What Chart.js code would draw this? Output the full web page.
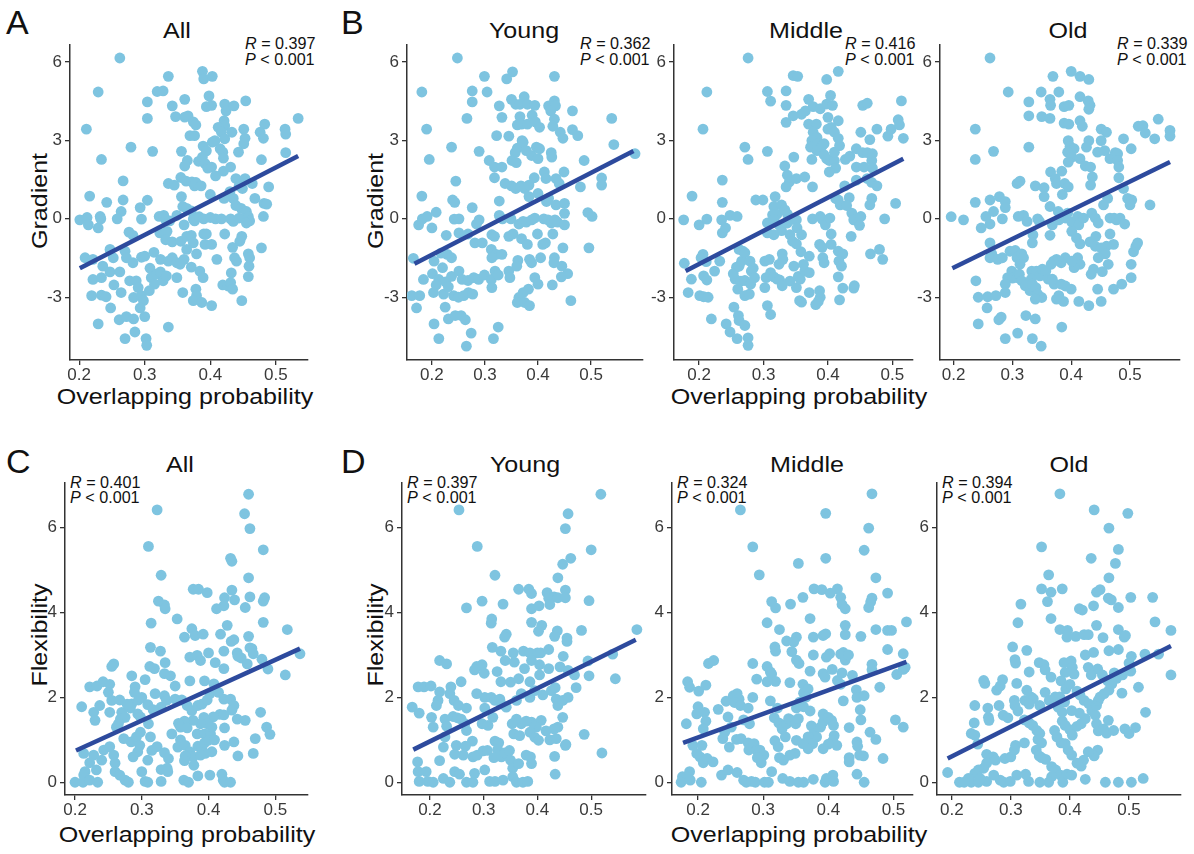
<!DOCTYPE html>
<html>
<head>
<meta charset="utf-8">
<script src="https://cdn.jsdelivr.net/npm/chart.js@4.4.0/dist/chart.umd.min.js"></script>
<style>
body{margin:0;background:#fff;width:1194px;height:854px;position:relative;overflow:hidden;font-family:"Liberation Sans",Arial,sans-serif;}
.box{position:absolute;}
.t{position:absolute;white-space:nowrap;line-height:1;color:#111;}
.lab{font-size:34px;}
.ttl{font-size:22px;transform:translateX(-50%) scaleX(1.14);}
.yt{font-size:22px;transform:translate(-50%,-50%) rotate(-90deg) scaleX(1.14);}
.ann{font-size:17px;transform:scaleX(0.95);transform-origin:left top;}
</style>
</head>
<body>
<div class="t lab" style="left:6px;top:5px">A</div>
<div class="t lab" style="left:341px;top:5px">B</div>
<div class="t lab" style="left:6px;top:444px">C</div>
<div class="t lab" style="left:341px;top:444px">D</div>

<div class="t ttl" style="left:177px;top:20px">All</div>
<div class="t ttl" style="left:524px;top:20px">Young</div>
<div class="t ttl" style="left:806px;top:20px">Middle</div>
<div class="t ttl" style="left:1068px;top:20px">Old</div>
<div class="t ttl" style="left:180px;top:454px">All</div>
<div class="t ttl" style="left:525px;top:454px">Young</div>
<div class="t ttl" style="left:807px;top:454px">Middle</div>
<div class="t ttl" style="left:1069px;top:454px">Old</div>

<div class="t ttl" style="left:185px;top:386px">Overlapping probability</div>
<div class="t ttl" style="left:799px;top:386px">Overlapping probability</div>
<div class="t ttl" style="left:187px;top:824px">Overlapping probability</div>
<div class="t ttl" style="left:799px;top:824px">Overlapping probability</div>

<div class="t yt" style="left:40px;top:201px">Gradient</div>
<div class="t yt" style="left:376px;top:201px">Gradient</div>
<div class="t yt" style="left:40px;top:635px">Flexibility</div>
<div class="t yt" style="left:376px;top:635px">Flexibility</div>

<div class="t ann" style="left:245px;top:35px"><i>R</i> = 0.397</div>
<div class="t ann" style="left:245px;top:51px"><i>P</i> &lt; 0.001</div>
<div class="t ann" style="left:580px;top:35px"><i>R</i> = 0.362</div>
<div class="t ann" style="left:580px;top:51px"><i>P</i> &lt; 0.001</div>
<div class="t ann" style="left:845px;top:35px"><i>R</i> = 0.416</div>
<div class="t ann" style="left:845px;top:51px"><i>P</i> &lt; 0.001</div>
<div class="t ann" style="left:1117px;top:35px"><i>R</i> = 0.339</div>
<div class="t ann" style="left:1117px;top:51px"><i>P</i> &lt; 0.001</div>
<div class="t ann" style="left:70px;top:474px"><i>R</i> = 0.401</div>
<div class="t ann" style="left:70px;top:489px"><i>P</i> &lt; 0.001</div>
<div class="t ann" style="left:407px;top:474px"><i>R</i> = 0.397</div>
<div class="t ann" style="left:407px;top:489px"><i>P</i> &lt; 0.001</div>
<div class="t ann" style="left:677px;top:474px"><i>R</i> = 0.324</div>
<div class="t ann" style="left:677px;top:489px"><i>P</i> &lt; 0.001</div>
<div class="t ann" style="left:942px;top:474px"><i>R</i> = 0.394</div>
<div class="t ann" style="left:942px;top:489px"><i>P</i> &lt; 0.001</div>

<script>
// tick values
const probTicks = [0.2, 0.3, 0.4, 0.5];
const gradTicks = [-3, 0, 3, 6];
const flexTicks = [0, 2, 4, 6];

// Gradient vs overlapping probability: [x, y]
const gradAll = [
[0.262,6.15],[0.229,4.85],[0.211,3.43],[0.234,2.27],[0.279,2.74],[0.312,2.58],[0.319,4.87],[0.328,4.89],[0.304,4.47],[0.304,3.84],[0.336,5.45],[0.342,4.32],[0.347,3.91],[0.361,3.89],[0.366,3.94],[0.361,4.57],[0.374,3.71],[0.378,3.59],[0.369,3.18],[0.376,3.18],[0.388,5.64],[0.390,5.35],[0.403,5.45],[0.398,4.70],[0.394,4.29],[0.402,4.34],[0.422,4.39],[0.424,4.13],[0.436,4.32],[0.421,3.75],[0.422,3.56],[0.412,3.50],[0.417,3.31],[0.422,3.06],[0.433,3.31],[0.454,4.51],[0.451,3.43],[0.453,3.08],[0.451,2.87],[0.483,3.62],[0.476,3.31],[0.481,3.08],[0.514,3.43],[0.515,3.24],[0.515,2.53],[0.534,3.84],[0.407,2.99],[0.403,2.93],[0.389,2.78],[0.394,2.60],[0.415,2.68],[0.419,2.55],[0.420,2.32],[0.356,2.58],[0.365,2.23],[0.361,2.02],[0.382,2.20],[0.388,2.36],[0.392,2.11],[0.396,1.94],[0.402,1.98],[0.408,1.64],[0.420,1.82],[0.431,1.98],[0.443,2.55],[0.478,2.26],[0.267,1.45],[0.216,0.87],[0.242,0.63],[0.267,0.72],[0.264,0.28],[0.293,0.43],[0.304,0.71],[0.336,1.35],[0.345,1.29],[0.355,1.58],[0.363,1.44],[0.372,1.41],[0.376,1.26],[0.378,1.39],[0.386,1.26],[0.356,0.85],[0.358,0.47],[0.364,0.40],[0.371,0.30],[0.400,0.93],[0.421,0.78],[0.430,1.04],[0.435,0.78],[0.439,1.54],[0.453,1.54],[0.444,1.26],[0.449,1.16],[0.464,1.35],[0.439,0.51],[0.447,0.40],[0.468,0.78],[0.482,0.59],[0.486,0.56],[0.489,1.22],
[0.201,-0.04],[0.212,0.05],[0.214,-0.23],[0.229,-0.35],[0.232,0.09],[0.233,0],[0.258,0],[0.295,-0.01],[0.322,0.09],[0.329,0.13],[0.332,-0.04],[0.338,-0.08],[0.349,0.13],[0.360,-0.23],[0.374,-0.01],[0.376,-0.08],[0.383,0.08],[0.390,0],[0.400,0.05],[0.408,0],[0.417,0],[0.431,0],[0.435,-0.1],[0.444,0.03],[0.455,0.28],[0.458,0.09],[0.460,-0.08],[0.455,-0.16],[0.481,0.09],
[0.276,-0.51],[0.282,-0.63],[0.323,-0.54],[0.334,-0.48],[0.332,-0.8],[0.342,-0.88],[0.355,-0.86],[0.364,-0.67],[0.371,-0.63],[0.374,-0.92],[0.390,-0.58],[0.394,-0.58],[0.392,-0.98],[0.402,-0.98],[0.422,-0.58],[0.448,-0.67],[0.445,-0.86],[0.434,-1.09],[0.437,-1.49],[0.440,-1.62],[0.458,-1.34],[0.460,-1.49],[0.459,-1.81],[0.458,-2.21],[0.478,-1.11],
[0.247,-1.17],[0.252,-1.49],[0.270,-1.24],[0.272,-1.49],[0.282,-1.68],[0.295,-1.47],[0.300,-1.43],[0.314,-1.28],[0.324,-1.55],[0.336,-1.62],[0.342,-1.49],[0.349,-1.68],[0.360,-1.55],[0.364,-1.17],[0.379,-1.34],[0.371,-1.85],[0.384,-2.0],[0.389,-2.25],[0.410,-1.55],
[0.209,-1.49],[0.221,-1.55],[0.236,-1.81],[0.221,-2.32],[0.234,-2.25],[0.247,-2.03],[0.262,-2.03],[0.253,-2.53],[0.264,-2.82],[0.277,-2.37],[0.287,-2.37],[0.290,-2.63],[0.283,-3.01],[0.295,-2.94],[0.298,-3.13],[0.308,-1.89],[0.310,-2.25],[0.315,-2.5],[0.307,-2.75],[0.318,-2.12],[0.324,-2.03],[0.328,-2.37],[0.333,-2.18],[0.349,-2.25],[0.354,-1.74],[0.358,-2.82],[0.378,-2.69],[0.379,-2.94],[0.374,-3.13],[0.387,-3.2],[0.402,-3.32],[0.419,-2.53],[0.427,-2.57],[0.431,-2.44],[0.434,-2.69],[0.448,-3.13],[0.432,-2.07],
[0.219,-2.94],[0.234,-2.92],[0.241,-2.98],[0.248,-3.41],[0.229,-4.02],[0.261,-3.86],[0.272,-3.74],[0.283,-3.83],[0.270,-4.58],[0.285,-4.33],[0.293,-3.41],[0.300,-3.74],[0.302,-4.58],[0.303,-4.84],[0.336,-4.14]
];
const gradYoung = [
[0.248,6.15],[0.181,4.85],[0.190,3.43],[0.195,2.27],[0.237,2.74],[0.299,5.45],[0.276,4.89],[0.276,4.47],[0.304,4.85],[0.266,3.84],[0.289,2.58],[0.341,5.35],[0.352,5.62],[0.431,5.45],[0.327,4.32],[0.332,3.88],[0.322,3.18],[0.345,3.16],[0.350,4.57],[0.358,4.38],[0.366,4.38],[0.374,4.67],[0.380,4.38],[0.394,4.34],[0.366,3.91],[0.361,3.59],[0.369,3.62],[0.380,3.62],[0.389,3.96],[0.395,3.71],[0.403,3.5],[0.420,4.32],[0.431,4.51],[0.433,4.32],[0.424,4.13],[0.431,3.81],[0.428,3.54],[0.442,3.31],[0.447,3.08],[0.465,4.13],[0.465,3.41],[0.475,3.18],[0.539,3.84],[0.543,2.84],[0.583,2.49],
[0.370,2.99],[0.361,2.70],[0.357,2.53],[0.351,2.23],[0.359,2.15],[0.372,2.93],[0.378,2.61],[0.388,2.42],[0.397,2.74],[0.403,2.68],[0.400,2.30],[0.425,2.53],[0.426,2.36],
[0.308,2.23],[0.318,1.98],[0.332,1.98],[0.318,1.57],[0.338,1.35],[0.350,1.26],[0.358,1.16],[0.368,1.26],[0.375,1.16],[0.383,1.29],[0.393,1.57],[0.412,1.79],[0.415,1.54],[0.434,1.54],[0.440,1.35],[0.449,1.79],[0.487,2.23],[0.480,1.22],[0.520,1.56],[0.520,1.29],
[0.245,1.44],[0.239,0.72],[0.243,0.63],[0.276,0.43],[0.327,0.68],[0.383,0.85],[0.400,0.97],[0.416,0.66],[0.420,0.78],[0.434,0.53],[0.450,0.59],[0.450,0.21],[0.494,0.24],[0.502,0.09],[0.181,0.87],
[0.175,-0.23],[0.182,0],[0.191,0.09],[0.200,-0.35],[0.208,0.25],[0.242,-0.01],[0.251,0],[0.289,-0.04],[0.284,-0.2],[0.327,0.13],[0.333,0],[0.349,0],[0.364,-0.2],[0.372,-0.1],[0.378,-0.13],[0.388,-0.04],[0.394,0.03],[0.411,0],[0.419,-0.04],[0.425,-0.16],[0.432,-0.04],[0.437,-0.13],[0.450,-0.23],
[0.227,-0.63],[0.251,-0.54],[0.268,-0.58],[0.313,-0.61],[0.318,-0.67],[0.345,-0.67],[0.353,-0.58],[0.369,-0.76],[0.380,-0.98],[0.399,-0.58],[0.409,-0.98],[0.414,-0.92],[0.428,-0.58],[0.447,-1.11],[0.496,-1.11],[0.281,-0.92],[0.295,-0.92],[0.312,-1.17],[0.321,-1.36],[0.313,-1.49],[0.332,-1.36],
[0.165,-1.51],[0.204,-1.62],[0.217,-1.31],[0.229,-1.36],[0.237,-1.49],[0.220,-1.87],[0.201,-2.1],[0.184,-2.32],[0.213,-2.32],[0.226,-2.41],[0.237,-2.2],[0.251,-2.0],[0.257,-2.32],[0.268,-2.36],[0.279,-2.25],[0.288,-2.32],[0.299,-2.15],[0.312,-2.32],[0.313,-2.63],[0.319,-2.0],[0.325,-2.15],[0.345,-2.0],[0.347,-2.25],[0.362,-1.59],[0.360,-1.81],[0.384,-1.55],[0.388,-1.68],[0.405,-1.49],[0.431,-1.49],[0.430,-1.68],[0.445,-1.81],[0.456,-2.1],[0.444,-2.22],[0.427,-2.53],[0.394,-2.25],[0.400,-2.5],[0.382,-2.69],[0.372,-2.82],[0.364,-3.01],[0.361,-3.2],[0.375,-3.2],[0.384,-3.32],
[0.162,-2.94],[0.177,-2.94],[0.208,-2.53],[0.203,-2.82],[0.222,-2.88],[0.231,-2.6],[0.241,-2.94],[0.250,-3.0],[0.260,-2.94],[0.269,-2.82],[0.277,-2.88],[0.171,-3.41],[0.462,-3.13],[0.225,-3.38],[0.231,-3.83],[0.244,-3.7],[0.255,-3.7],[0.263,-3.86],[0.204,-4.02],[0.213,-4.58],[0.265,-4.87],[0.274,-4.37],[0.316,-4.58],[0.325,-4.14]
];
const gradMiddle = [
[0.276,6.15],[0.212,4.85],[0.206,3.43],[0.189,0.87],[0.176,-0.04],[0.200,-0.23],[0.212,-0.01],[0.188,-2.31],[0.177,-1.7],[0.183,-2.82],[0.201,-2.94],[0.207,-2.98],[0.214,-3.0],
[0.206,-1.36],[0.203,-1.49],[0.211,-1.64],[0.207,-2.18],[0.212,-2.34],[0.224,-2.0],[0.232,-1.62],[0.236,1.48],[0.236,0.63],[0.235,-0.04],[0.236,-0.54],[0.241,-0.35],[0.248,0.13],[0.259,0.09],
[0.219,-3.83],[0.242,-4.02],[0.248,-4.33],[0.254,-3.38],[0.261,-3.7],[0.262,-3.89],[0.259,-4.58],[0.271,-4.08],[0.276,-4.55],[0.276,-4.84],
[0.256,-2.31],[0.260,-2.69],[0.265,-2.38],[0.271,-2.36],[0.258,-1.85],[0.253,-2.1],[0.262,-1.81],[0.266,-1.62],[0.268,-1.24],[0.262,-1.17],[0.271,-1.30],[0.279,-1.62],[0.284,-1.89],[0.281,-2.0],[0.271,-2.94],[0.278,-2.88],[0.280,-2.5],[0.286,-2.25],[0.302,-2.63],[0.304,-2.25],[0.302,-1.62],[0.309,-1.55],[0.311,-2.06],[0.316,-2.22],[0.321,-2.31],[0.325,-2.34],[0.329,-2.56],[0.324,-1.74],[0.329,-1.34],[0.330,-1.55],[0.347,-1.81],[0.341,-2.38],[0.354,-2.2],[0.351,-2.63],[0.357,-2.31],[0.364,-2.0],[0.371,-2.06],[0.356,-3.13],[0.371,-2.82],[0.387,-2.75],[0.388,-3.0],[0.385,-3.16],[0.381,-3.28],[0.418,-3.1],[0.423,-2.65],[0.440,-2.65],[0.441,-2.56],
[0.306,-3.32],[0.311,-3.66],[0.359,-3.19],
[0.306,4.87],[0.311,4.50],[0.335,4.89],[0.335,4.34],[0.335,3.69],[0.333,2.02],[0.346,5.48],[0.353,5.45],[0.346,3.94],[0.359,4.0],[0.365,4.13],[0.370,4.57],[0.377,4.29],[0.388,4.21],[0.398,5.33],[0.398,4.39],[0.404,4.72],[0.407,4.34],[0.416,5.64],[0.416,3.75],[0.400,3.88],[0.400,3.43],[0.405,3.5],[0.410,3.31],[0.416,3.08],[0.418,2.8],[0.370,3.62],[0.382,3.62],[0.377,3.31],[0.383,3.11],[0.375,2.99],[0.373,2.74],[0.384,2.87],[0.391,2.8],[0.383,2.61],[0.375,2.27],[0.398,2.3],[0.402,2.23],[0.410,2.23],[0.410,2.55],[0.412,1.94],[0.402,1.79],[0.394,2.87],[0.394,2.45],
[0.271,2.74],[0.276,2.27],[0.306,2.58],[0.347,2.36],[0.337,1.67],[0.340,1.41],[0.351,1.54],[0.364,1.6],[0.376,1.22],[0.335,1.22],
[0.427,2.27],[0.434,2.4],[0.444,2.68],[0.451,3.31],[0.454,2.53],[0.461,2.53],[0.468,2.23],[0.444,1.98],[0.456,1.98],[0.465,3.03],[0.469,1.94],[0.461,1.54],[0.468,1.39],[0.476,1.26],[0.454,4.34],[0.461,4.42],[0.476,3.43],[0.469,2.49],[0.493,3.16],[0.498,3.43],[0.509,3.79],[0.511,3.59],[0.514,4.51],[0.517,3.08],[0.444,1.48],[0.426,1.26],
[0.288,0.72],[0.299,0.72],[0.318,0.85],[0.316,0.47],[0.321,0.18],[0.328,0.53],[0.333,0.34],[0.337,0.18],[0.314,0.15],[0.306,-0.16],[0.316,-0.04],[0.324,-0.23],[0.328,-0.45],[0.337,-0.16],[0.341,-0.04],[0.351,-0.04],[0.352,-0.35],[0.359,-0.61],[0.376,0],[0.388,0.09],[0.391,-0.01],[0.396,-0.23],[0.403,0.03],[0.405,-0.58],[0.412,0.78],[0.416,0.72],[0.419,0.53],[0.433,0.81],[0.429,0.51],[0.437,0.22],[0.440,-0.04],[0.451,0.09],[0.449,-0.25],[0.468,0.78],[0.465,0.53],[0.488,0],[0.505,0.59],
[0.306,-0.54],[0.316,-0.61],[0.341,-0.61],[0.345,-0.86],[0.351,-0.96],[0.358,-1.26],[0.387,-0.98],[0.391,-1.09],[0.405,-0.98],[0.416,-1.24],[0.423,-1.34],[0.436,-0.67],[0.466,-1.34],[0.480,-1.17],[0.485,-1.55],
[0.371,-1.43],[0.362,-1.74],[0.392,-1.49],[0.394,-1.68],[0.417,-1.62],[0.421,-1.81],[0.416,-2.22]
];
const gradOld = [
[0.262,6.15],[0.293,4.85],[0.237,3.43],[0.237,2.27],[0.268,2.58],
[0.237,0.63],[0.262,0.72],[0.278,0.85],[0.288,0.66],[0.288,0.43],[0.268,0.28],[0.255,0.09],[0.262,-0.2],[0.283,0],[0.247,-0.35],[0.196,0.08],[0.217,-0.04],
[0.308,1.35],[0.313,1.44],[0.328,2.74],[0.328,3.94],[0.328,4.47],[0.349,4.85],[0.350,3.91],[0.364,4.57],[0.365,4.34],[0.364,3.84],[0.369,5.45],[0.379,4.85],[0.388,4.29],[0.396,4.34],[0.339,1.26],[0.354,1.19],[0.354,0.85],[0.365,1.79],[0.373,1.54],[0.375,1.35],[0.384,1.82],[0.389,1.35],[0.385,0.93],[0.395,1.22],[0.364,0.47],
[0.400,5.64],[0.415,5.45],[0.430,5.33],[0.415,4.67],[0.429,4.51],[0.432,4.34],[0.430,4.19],[0.388,3.66],[0.396,3.62],[0.415,3.75],[0.419,3.54],[0.395,2.99],[0.398,2.77],[0.405,2.68],[0.394,2.55],[0.401,2.36],[0.395,2.17],[0.415,2.3],[0.430,2.99],[0.426,2.74],[0.424,2.02],[0.433,1.98],[0.436,1.6],[0.433,1.29],
[0.451,3.43],[0.460,3.31],[0.451,2.99],[0.445,2.55],[0.457,2.61],[0.466,2.3],[0.475,2.53],[0.479,2.49],[0.479,2.23],[0.481,1.98],[0.481,1.57],[0.489,1.16],[0.496,0.78],[0.503,0.72],[0.500,0.53],[0.502,2.68],[0.514,3.54],[0.522,3.56],[0.526,3.28],[0.542,3.06],[0.548,3.81],[0.568,3.38],[0.568,3.16],[0.534,0.53],[0.489,3.06],
[0.310,0.09],[0.319,0.13],[0.325,-0.1],[0.343,0],[0.346,-0.1],[0.335,-0.61],[0.334,-0.92],[0.364,-0.63],[0.368,-0.23],[0.378,0.28],[0.379,-0.04],[0.390,0.03],[0.394,0.22],[0.401,-0.13],[0.411,0.09],[0.413,-0.23],[0.421,0.03],[0.435,0.22],[0.441,0.03],[0.446,-0.16],[0.455,0.53],[0.462,0.78],[0.466,0.03],[0.473,0.03],[0.477,-0.04],[0.483,0.03],[0.491,-0.2],[0.466,-0.58],[0.472,-0.98],[0.460,-1.05],
[0.401,-0.48],[0.409,-0.73],[0.415,-0.96],[0.432,-0.88],[0.442,-0.67],[0.441,-1.05],[0.451,-1.11],[0.458,-1.34],[0.446,-1.49],[0.463,-1.74],[0.453,-2.02],[0.438,-1.93],[0.434,-2.12],[0.411,-1.49],[0.415,-1.74],[0.405,-1.87],[0.401,-1.62],[0.390,-1.49],[0.383,-1.68],[0.375,-1.55],[0.370,-1.62],[0.366,-1.74],[0.371,-2.5],[0.383,-2.5],[0.390,-2.57],[0.387,-3.16],[0.379,-2.94],[0.375,-3.07],[0.400,-2.69],[0.413,-3.16],[0.430,-3.32],[0.445,-2.69],[0.451,-3.16],[0.472,-2.69],[0.486,-2.5],[0.502,-2.25],[0.502,-1.74],[0.506,-1.26],[0.510,-1.05],[0.513,-0.92],
[0.262,-0.92],[0.265,-1.34],[0.262,-1.49],[0.275,-1.55],[0.283,-1.49],[0.296,-1.24],[0.305,-1.21],[0.308,-1.49],[0.316,-1.34],[0.319,-1.49],[0.313,-1.74],[0.299,-2.0],[0.292,-2.25],[0.300,-2.27],[0.308,-2.25],[0.312,-2.12],[0.316,-2.37],[0.322,-2.56],[0.330,-2.75],[0.333,-2.0],[0.341,-2.0],[0.347,-2.18],[0.351,-1.93],[0.357,-2.0],[0.361,-2.31],[0.368,-2.31],[0.332,-2.31],[0.334,-2.5],[0.340,-2.63],[0.343,-2.88],[0.350,-3.01],[0.339,-3.07],[0.288,-2.5],[0.288,-2.82],[0.238,-2.37],[0.242,-3.0],[0.258,-2.98],[0.272,-2.94],[0.257,-3.41],[0.242,-4.02],[0.281,-3.76],[0.277,-3.86],[0.309,-4.37],[0.288,-4.58],[0.334,-4.58],[0.349,-4.87],[0.323,-3.7],[0.339,-3.83],[0.384,-4.14]
];

// Flexibility vs overlapping probability: [x, y]
const flexAll = [
[0.460,6.79],[0.454,6.33],[0.462,5.98],[0.323,6.42],[0.310,5.56],[0.482,5.48],[0.433,5.28],[0.435,5.21],[0.460,4.82],[0.329,4.88],[0.377,4.55],[0.385,4.55],[0.398,4.47],[0.325,4.27],[0.334,4.18],[0.335,4.09],[0.424,4.35],[0.423,4.16],[0.412,4.09],[0.435,4.53],[0.439,4.30],[0.462,4.37],[0.455,4.12],[0.484,4.35],[0.482,4.27],[0.314,3.75],[0.353,3.85],[0.482,3.77],[0.518,3.60],
[0.375,3.62],[0.380,3.46],[0.392,3.49],[0.364,3.42],[0.418,3.49],[0.428,3.70],[0.438,3.36],[0.434,3.32],[0.460,3.44],[0.462,3.17],[0.465,3.15],[0.443,3.05],[0.444,2.97],
[0.313,3.18],[0.328,3.09],[0.312,2.73],[0.319,2.68],[0.335,2.82],[0.334,2.56],[0.343,2.51],[0.350,2.27],[0.285,2.51],[0.258,2.79],[0.255,2.73],[0.372,2.95],[0.383,2.99],[0.400,3.05],[0.388,2.87],[0.372,2.39],[0.394,2.39],[0.410,2.82],[0.423,3.09],[0.423,2.68],[0.449,2.93],[0.458,2.79],[0.467,3.03],[0.480,2.90],[0.489,2.67],[0.537,3.03],[0.515,2.53],
[0.222,2.25],[0.233,2.27],[0.242,2.37],[0.252,2.31],[0.250,2.12],[0.255,1.93],[0.305,2.42],[0.290,2.25],[0.289,2.12],[0.285,1.85],[0.283,1.75],[0.295,1.94],[0.300,2.0],[0.294,1.61],[0.309,1.83],[0.320,2.09],[0.334,2.04],[0.337,1.93],[0.329,1.77],[0.317,1.71],[0.298,1.54],
[0.210,1.78],[0.228,1.65],[0.230,1.46],[0.237,1.81],[0.267,1.94],[0.270,1.65],[0.268,1.49],[0.275,1.53],[0.278,1.84],[0.265,1.38],[0.262,1.30],[0.252,1.65],
[0.350,1.96],[0.360,1.94],[0.368,1.81],[0.375,1.69],[0.384,1.81],[0.390,1.84],[0.398,1.94],[0.402,2.09],[0.408,2.32],[0.415,2.12],[0.423,1.96],[0.433,1.96],[0.438,1.81],[0.435,1.70],[0.417,1.60],[0.423,1.59],[0.407,1.54],[0.393,1.53],[0.398,1.38],[0.388,1.38],[0.377,1.46],[0.364,1.44],[0.355,1.39],[0.358,1.30],[0.368,1.28],[0.383,1.14],[0.394,1.14],[0.403,1.14],[0.405,1.30],
[0.443,1.49],[0.455,1.46],[0.478,1.65],[0.487,1.30],[0.492,1.13],[0.470,1.03],[0.467,0.68],[0.438,0.95],[0.424,1.28],[0.424,0.87],[0.444,0.62],
[0.213,0.68],[0.228,0.64],[0.222,0.46],[0.215,0.25],[0.213,0.17],[0.232,0.29],[0.243,0.76],[0.240,0.52],[0.252,0.84],[0.258,0.64],[0.260,0.45],[0.273,1.03],[0.284,0.95],[0.292,1.07],[0.298,1.18],[0.297,0.87],[0.294,0.72],[0.287,0.60],[0.310,1.38],[0.313,1.07],[0.315,0.75],[0.309,0.52],[0.323,0.84],[0.334,0.70],[0.340,0.56],[0.329,0.30],[0.338,0.33],[0.345,1.14],[0.358,1.00],[0.354,0.83],[0.365,0.87],[0.372,0.72],[0.377,0.60],[0.384,0.85],[0.390,0.83],[0.394,0.93],[0.400,0.99],[0.409,1.00],[0.405,0.72],[0.395,0.68],[0.388,0.64],[0.365,0.62],[0.364,0.51],[0.378,0.40],
[0.200,0],[0.212,0],[0.222,0.05],[0.234,0],[0.260,0.25],[0.267,0.17],[0.275,0.05],[0.280,0],[0.300,0.25],[0.305,0.02],[0.309,0],[0.329,0.02],[0.339,0.25],[0.363,0.05],[0.370,0],[0.384,0.15],[0.402,0.17],[0.420,0.19],[0.422,0.05],[0.424,0],[0.433,0]
];
const flexYoung = [
[0.518,6.79],[0.254,6.42],[0.457,6.33],[0.452,5.98],[0.288,5.56],[0.500,5.48],[0.462,5.28],[0.447,5.14],[0.438,4.82],[0.321,4.88],[0.365,4.55],[0.384,4.55],[0.389,4.45],[0.418,4.47],[0.421,4.34],[0.431,4.37],[0.438,4.35],[0.452,4.53],[0.452,4.35],[0.297,4.27],[0.268,4.11],[0.336,4.20],[0.389,4.09],[0.403,4.16],[0.423,4.19],[0.496,4.28],
[0.315,3.85],[0.314,3.75],[0.389,3.77],[0.408,3.70],[0.402,3.56],[0.437,3.57],[0.432,3.44],[0.455,3.40],[0.455,3.32],[0.482,3.58],[0.342,3.49],[0.339,3.42],[0.585,3.60],[0.540,3.02],
[0.316,3.18],[0.332,3.09],[0.355,3.05],[0.374,3.09],[0.386,3.05],[0.400,3.05],[0.406,3.05],[0.421,3.13],[0.448,2.97],[0.340,2.87],[0.357,2.83],[0.376,2.68],[0.389,2.87],[0.404,2.77],[0.421,2.68],[0.404,2.53],[0.442,2.72],[0.457,2.64],[0.469,2.53],[0.494,2.86],[0.496,2.51],[0.472,2.23],[0.545,2.44],[0.218,2.87],[0.231,2.79],[0.287,2.73],[0.297,2.77],[0.283,2.65],[0.301,2.57],[0.325,2.61],[0.332,2.37],[0.350,2.36],[0.365,2.44],[0.386,2.37],
[0.178,2.25],[0.189,2.25],[0.202,2.27],[0.218,2.13],[0.239,2.25],[0.258,2.37],[0.237,2.09],[0.245,1.93],[0.253,1.81],[0.268,1.75],[0.215,1.93],[0.212,1.81],[0.203,1.53],[0.206,1.30],[0.228,1.49],[0.231,1.32],[0.243,1.55],[0.251,1.52],[0.258,1.49],[0.265,1.38],[0.268,1.22],[0.279,0.97],[0.287,2.09],[0.302,2.0],[0.314,2.0],[0.321,1.93],[0.330,1.96],[0.333,1.84],[0.302,1.75],[0.297,1.38],[0.308,1.34],[0.317,1.53],[0.342,1.77],[0.361,1.93],[0.370,2.09],[0.386,2.0],[0.395,2.16],[0.410,2.06],[0.426,2.16],[0.433,2.23],[0.435,1.96],[0.438,1.81],[0.447,1.93],[0.457,2.0],[0.447,1.53],[0.438,1.30],[0.431,1.26],[0.416,1.21],[0.407,1.46],[0.398,1.30],[0.389,1.42],[0.379,1.44],[0.370,1.38],[0.361,1.49],[0.353,1.38],[0.356,1.14],[0.367,1.10],[0.386,1.18],[0.395,1.06],[0.402,0.99],[0.423,1.00],[0.435,1.03],[0.432,0.61],[0.452,0.87],[0.487,1.13],
[0.167,1.77],[0.180,1.63],[0.218,0.51],[0.225,0.83],[0.228,1.07],[0.249,0.87],[0.246,0.66],[0.262,0.64],[0.266,0.85],[0.280,0.60],[0.288,0.64],[0.299,0.74],[0.307,0.75],[0.321,0.97],[0.328,0.93],[0.326,0.77],[0.319,0.58],[0.333,0.60],[0.339,0.69],[0.348,0.75],[0.350,0.52],[0.354,0.33],[0.365,0.44],[0.379,0.64],[0.387,0.60],[0.389,0.44],[0.433,0.19],[0.453,0.89],[0.520,0.69],
[0.177,0.48],[0.178,0.25],[0.180,0.02],[0.193,0.25],[0.196,0.02],[0.206,0],[0.225,0.09],[0.237,0],[0.246,0.25],[0.255,0.19],[0.268,0],[0.280,0],[0.283,0.21],[0.302,0.29],[0.311,0.02],[0.321,0.02],[0.336,0.05],[0.354,0.13],[0.361,0],[0.373,0],[0.382,0.02]
];
const flexMiddle = [
[0.467,6.80],[0.265,6.42],[0.396,6.34],[0.462,5.99],[0.284,5.55],[0.455,5.47],[0.396,5.28],[0.354,5.16],[0.294,4.89],[0.473,4.82],[0.378,4.56],[0.390,4.54],[0.414,4.56],[0.403,4.46],
[0.361,4.36],[0.313,4.26],[0.319,4.11],[0.342,4.20],[0.419,4.36],[0.421,4.19],[0.426,4.09],[0.467,4.34],[0.465,4.25],[0.462,4.12],[0.491,4.46],
[0.372,3.86],[0.306,3.76],[0.325,3.60],[0.351,3.42],[0.336,3.33],[0.347,3.31],[0.377,3.42],[0.392,3.46],[0.396,3.50],[0.426,3.70],[0.426,3.48],[0.450,3.44],[0.473,3.60],[0.491,3.58],[0.497,3.58],[0.520,3.78],
[0.318,3.19],[0.319,3.09],[0.344,3.08],[0.351,2.88],[0.355,2.80],[0.377,3.00],[0.402,3.03],[0.397,2.95],[0.419,3.02],[0.423,3.06],[0.426,2.88],[0.431,3.00],[0.491,3.13],[0.515,3.03],
[0.184,2.37],[0.187,2.24],[0.201,2.15],[0.216,2.80],[0.224,2.87],[0.212,2.29],[0.306,2.73],[0.311,2.60],[0.313,2.55],[0.319,2.38],[0.284,2.80],[0.290,2.43],[0.306,2.37],[0.341,2.35],[0.361,2.31],[0.372,2.62],[0.392,2.56],[0.395,2.48],[0.406,2.66],[0.414,2.40],[0.421,2.58],[0.419,2.31],[0.437,2.52],[0.443,2.18],[0.467,2.78],[0.467,2.65],[0.479,2.24],[0.505,2.54],[0.515,2.66],[0.518,2.71],
[0.182,1.38],[0.200,1.78],[0.198,1.61],[0.210,1.65],[0.212,1.44],[0.208,1.26],[0.231,1.72],[0.243,1.91],[0.254,2.04],[0.260,2.09],[0.263,1.96],[0.256,1.88],[0.265,1.81],[0.277,1.75],[0.284,2.00],[0.270,1.47],[0.279,1.38],[0.246,1.54],[0.251,1.30],[0.241,1.18],[0.238,1.03],[0.248,0.83],[0.259,1.01],[0.266,1.03],[0.277,0.93],[0.278,0.76],[0.286,0.91],[0.290,0.76],[0.295,0.76],[0.301,0.64],[0.297,0.46],[0.291,0.58],
[0.311,1.92],[0.322,1.75],[0.317,1.52],[0.324,1.40],[0.329,1.26],[0.334,1.07],[0.336,1.38],[0.339,1.50],[0.344,1.46],[0.350,1.38],[0.354,1.50],[0.351,1.75],[0.356,1.89],[0.362,2.10],[0.369,2.20],[0.366,2.01],[0.362,1.78],[0.372,1.68],[0.374,1.33],[0.378,1.15],[0.382,1.07],[0.388,1.30],[0.392,1.42],[0.392,1.61],[0.400,1.53],[0.405,1.46],[0.408,1.34],[0.409,1.10],[0.413,0.87],[0.407,0.98],[0.400,0.90],[0.392,0.79],[0.369,1.07],[0.376,0.91],[0.369,0.79],[0.361,0.91],[0.351,0.99],[0.349,0.68],[0.341,0.64],[0.331,0.52],[0.325,0.58],[0.323,0.84],[0.318,0.98],
[0.432,1.29],[0.444,0.95],[0.445,0.85],[0.449,1.71],[0.450,1.47],[0.464,1.18],[0.473,1.01],[0.484,0.56],[0.454,0.62],[0.448,0.64],[0.432,0.58],[0.432,0.48],[0.503,1.47],[0.515,1.30],[0.423,1.92],[0.444,2.00],[0.455,2.04],
[0.192,0.87],[0.203,0.60],[0.208,0.46],[0.214,0.56],[0.223,0.48],[0.198,0.68],[0.206,0.87],[0.176,0.13],[0.174,0],[0.187,0.25],[0.188,0.05],[0.205,0],[0.236,0.17],[0.246,0.29],[0.260,0.23],[0.270,0.05],[0.274,0],[0.282,0.02],[0.288,0],[0.302,0],[0.308,0],[0.313,0.25],[0.330,0.09],[0.341,0.02],[0.354,0],[0.362,0],[0.377,0.07],[0.395,0],[0.397,0.09],[0.407,0.17],[0.408,0.02],[0.444,0.19],[0.455,0]
];
const flexOld = [
[0.383,6.80],[0.441,6.42],[0.498,6.34],[0.466,5.99],[0.352,5.55],[0.482,5.49],[0.436,5.28],[0.477,5.16],[0.364,4.89],[0.466,4.82],
[0.352,4.56],[0.368,4.48],[0.387,4.56],[0.362,4.26],[0.445,4.48],[0.451,4.54],[0.465,4.34],[0.470,4.30],[0.482,4.12],[0.503,4.36],[0.540,4.36],[0.440,4.16],[0.416,4.09],[0.421,4.06],
[0.317,4.20],[0.312,3.76],[0.368,3.86],
[0.383,3.60],[0.396,3.58],[0.395,3.42],[0.410,3.44],[0.424,3.48],[0.431,3.48],[0.445,3.70],[0.456,3.41],[0.466,3.10],[0.482,3.60],[0.492,3.42],[0.494,3.46],[0.544,3.78],[0.571,3.58],
[0.303,3.19],[0.307,2.89],[0.308,2.81],[0.327,3.11],[0.348,2.82],[0.356,2.77],[0.358,2.65],[0.368,2.48],[0.358,2.12],[0.390,2.82],[0.402,2.86],[0.404,2.71],[0.407,2.55],[0.392,2.59],[0.385,2.39],[0.426,3.00],[0.440,3.06],[0.431,2.71],[0.447,2.67],[0.436,2.53],[0.455,2.53],[0.464,2.39],[0.475,2.58],[0.479,2.45],[0.489,2.53],[0.503,2.62],[0.500,2.81],[0.504,2.97],[0.527,3.02],[0.550,3.02],[0.482,3.13],[0.571,2.53],
[0.254,2.40],[0.256,2.33],[0.276,2.17],[0.286,2.42],[0.282,2.27],[0.310,2.33],[0.331,2.60],[0.327,2.17],[0.324,1.93],[0.334,2.01],[0.338,1.97],[0.331,1.84],[0.306,1.93],[0.307,1.81],[0.312,1.68],[0.287,1.58],[0.295,1.52],[0.280,1.81],[0.261,1.75],[0.262,1.53],[0.263,1.46],[0.239,1.81],[0.238,1.40],[0.233,1.15],[0.239,1.11],[0.244,0.90],[0.259,0.66],[0.270,0.60],[0.274,0.52],[0.259,0.45],[0.254,0.33],[0.245,0.29],[0.239,0.21],[0.233,0],[0.213,0],[0.193,0.23],
[0.323,1.47],[0.331,1.40],[0.337,1.34],[0.344,1.22],[0.349,1.15],[0.346,1.01],[0.352,0.93],[0.343,0.76],[0.348,0.62],[0.352,0.58],[0.359,0.54],[0.369,0.37],[0.376,0.29],[0.384,0.17],[0.388,0],[0.395,0.19],[0.403,0.17],[0.369,0.13],[0.364,0],[0.349,0],[0.330,0.02],[0.325,0.19],[0.310,0.17],[0.299,0.02],[0.288,0],[0.282,0.05],[0.271,0.17],[0.259,0.02],[0.245,0],[0.228,0.09],[0.221,0],[0.248,0.09],[0.290,0.56],[0.300,0.60],[0.306,0.76],[0.308,0.87],[0.323,0.93],
[0.349,1.81],[0.365,1.93],[0.375,2.01],[0.383,2.01],[0.391,1.89],[0.393,2.20],[0.400,2.31],[0.412,2.15],[0.417,2.06],[0.424,1.93],[0.432,1.85],[0.437,1.69],[0.443,1.58],[0.445,1.81],[0.448,1.93],[0.451,2.01],[0.458,2.09],[0.466,2.17],[0.471,2.32],[0.488,2.10],[0.516,2.24],[0.445,1.38],[0.448,1.21],[0.457,1.26],[0.462,1.16],[0.447,0.76],[0.441,0.62],[0.431,0.72],[0.423,0.52],[0.419,0.38],[0.412,0.45],[0.403,0.64],[0.397,0.76],[0.392,0.91],[0.385,0.93],[0.378,1.07],[0.374,1.22],[0.387,1.44],[0.392,1.34],[0.400,1.24],[0.404,1.11],[0.412,1.32],[0.419,1.38],[0.426,1.50],[0.416,1.63],[0.403,1.69],[0.387,1.65],[0.380,1.77],[0.465,1.46],[0.474,1.22],[0.493,1.26],[0.500,1.15],[0.511,1.29],[0.528,1.65],[0.426,0.07],[0.460,0],[0.482,0],[0.504,0],[0.524,0.09]
];

// fitted regression lines (end points)
const gradAllFit = [[0.201,-1.89],[0.534,2.40]];
const gradYoungFit = [[0.167,-1.72],[0.580,2.59]];
const gradMiddleFit = [[0.179,-2.0],[0.517,2.30]];
const gradOldFit = [[0.198,-1.89],[0.568,2.17]];
const flexAllFit = [[0.2015,0.75],[0.537,3.15]];
const flexYoungFit = [[0.169,0.77],[0.583,3.36]];
const flexMiddleFit = [[0.177,0.93],[0.520,2.84]];
const flexOldFit = [[0.193,0.56],[0.571,3.21]];

// panel layout: plot box [left, top, right, bottom] in page px, and axis ranges
const panels = [
  {pts: gradAll, fit: gradAllFit, xr: [0.186, 0.549], yr: [-5.40, 6.64], yt: gradTicks, box: [70, 42, 308, 360]},
  {pts: gradYoung, fit: gradYoungFit, xr: [0.153, 0.598], yr: [-5.40, 6.64], yt: gradTicks, box: [407, 42, 643, 360]},
  {pts: gradMiddle, fit: gradMiddleFit, xr: [0.161, 0.532], yr: [-5.40, 6.64], yt: gradTicks, box: [674, 42, 913, 360]},
  {pts: gradOld, fit: gradOldFit, xr: [0.177, 0.585], yr: [-5.40, 6.64], yt: gradTicks, box: [940, 42, 1180, 360]},
  {pts: flexAll, fit: flexAllFit, xr: [0.185, 0.549], yr: [-0.30, 7.05], yt: flexTicks, box: [65, 480, 308, 795]},
  {pts: flexYoung, fit: flexYoungFit, xr: [0.148, 0.602], yr: [-0.30, 7.05], yt: flexTicks, box: [402, 480, 646, 795]},
  {pts: flexMiddle, fit: flexMiddleFit, xr: [0.160, 0.530], yr: [-0.30, 7.05], yt: flexTicks, box: [672, 480, 913, 795]},
  {pts: flexOld, fit: flexOldFit, xr: [0.175, 0.588], yr: [-0.30, 7.05], yt: flexTicks, box: [937, 480, 1181, 795]}
];

Chart.defaults.font.family = '"Liberation Sans", Arial, sans-serif';

function toXY(arr) {
  return arr.map(p => ({x: p[0], y: p[1]}));
}

const axisGrid = {display: true, drawOnChartArea: false, drawTicks: true, tickLength: 5, color: '#333', lineWidth: 1.3};
const axisBorder = {display: true, color: '#333', width: 1.5};

panels.forEach(p => {
  const [l, t, r, b] = p.box;
  const padL = 50, padT = 10, padR = 12, padB = 40;
  const w = r - l + padL + padR;
  const h = b - t + padT + padB;

  const div = document.createElement('div');
  div.className = 'box';
  div.style.left = (l - padL) + 'px';
  div.style.top = (t - padT) + 'px';
  const cv = document.createElement('canvas');
  cv.width = w;
  cv.height = h;
  cv.style.width = w + 'px';
  cv.style.height = h + 'px';
  div.appendChild(cv);
  document.body.appendChild(div);

  new Chart(cv, {
    type: 'scatter',
    data: {
      datasets: [
        {type: 'line', data: toXY(p.fit), borderColor: '#2D4A9D', borderWidth: 4.5, pointRadius: 0, fill: false, order: 0},
        {data: toXY(p.pts), backgroundColor: '#7EC4E0', borderWidth: 0, pointRadius: 5.4, order: 1}
      ]
    },
    options: {
      responsive: false,
      animation: false,
      events: [],
      layout: {padding: {top: padT, right: padR, left: 0, bottom: 0}},
      plugins: {legend: {display: false}, tooltip: {enabled: false}},
      scales: {
        x: {
          type: 'linear', min: p.xr[0], max: p.xr[1],
          afterBuildTicks: s => { s.ticks = probTicks.map(v => ({value: v})); },
          afterFit: s => { s.height = padB; },
          ticks: {font: {size: 17}, color: '#3a3a3a', padding: 0, maxRotation: 0, callback: v => v.toFixed(1)},
          grid: axisGrid, border: axisBorder
        },
        y: {
          type: 'linear', min: p.yr[0], max: p.yr[1],
          afterBuildTicks: s => { s.ticks = p.yt.map(v => ({value: v})); },
          afterFit: s => { s.width = padL; },
          ticks: {font: {size: 17}, color: '#3a3a3a', padding: 3, callback: v => String(v)},
          grid: axisGrid, border: axisBorder
        }
      }
    }
  });
});
</script>
</body>
</html>
